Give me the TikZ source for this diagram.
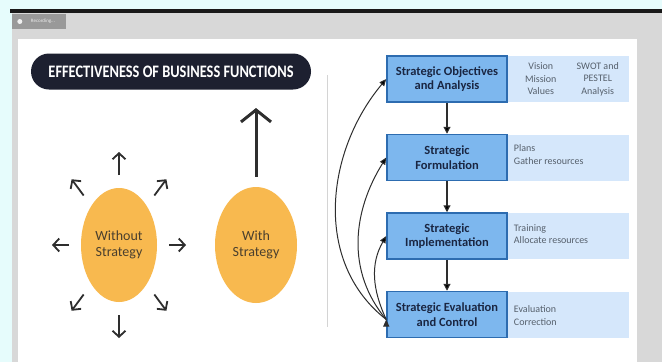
\documentclass[tikz,border=0pt]{standalone}
\usepackage{fontspec}
\setmainfont{Carlito}
\usepackage{graphicx}
\usepackage{xcolor}
\usepackage{tikz}
\usetikzlibrary{arrows.meta,positioning,shapes.geometric,calc}

\definecolor{screenbg}{HTML}{E6FCFC}
\definecolor{framegray}{HTML}{D8D8D8}
\definecolor{recgray}{HTML}{999999}
\definecolor{titlenavy}{HTML}{1D2030}
\definecolor{blobyellow}{HTML}{F8B94F}
\definecolor{blobtext}{HTML}{4A3F2E}
\definecolor{arrowgray}{HTML}{2E2E2E}
\definecolor{boxfill}{HTML}{7DB7EE}
\definecolor{boxline}{HTML}{2D6CB0}
\definecolor{boxtext}{HTML}{1A2642}
\definecolor{panelblue}{HTML}{D5E7FB}
\definecolor{notetext}{HTML}{56606C}

\begin{document}
\begin{tikzpicture}[x=1pt,y=-1pt,node distance=31pt,
    box/.style={draw=boxline,line width=1.5pt,fill=boxfill,minimum width=120pt,minimum height=46pt,
      inner sep=1pt,align=center,text=boxtext,font=\bfseries\fontsize{12.5}{14.5}\selectfont},
    panel/.style={fill=panelblue,minimum width=121pt,minimum height=46pt,inner sep=0pt},
    note/.style={text=notetext,inner sep=0pt,font=\fontsize{10}{12.5}\selectfont},
    blob/.style={ellipse,fill=blobyellow,inner sep=0pt,align=center,text=blobtext,
      font=\fontsize{14}{16.5}\selectfont},
    spoke/.style={draw=arrowgray,line width=1.8pt,-{Straight Barb[length=6pt,width=13pt]}},
    rise/.style={draw=arrowgray,line width=3pt,-{Straight Barb[length=12pt,width=30pt]}},
    flow/.style={draw=arrowgray,line width=1.1pt,-{Triangle[length=7pt,width=7pt]}},
    back/.style={draw=arrowgray,line width=1pt,-{Triangle[length=7pt,width=6pt]}}]

  % screen around the slide
  \useasboundingbox (0,0) rectangle (662,362);
  \fill[screenbg] (0,0) rectangle (662,362);
  \fill[framegray] (12,13) rectangle (662,362);
  \fill[black!90] (10,8.5) rectangle (662,13);
  \node[fill=recgray,minimum width=54pt,minimum height=15pt,inner sep=0pt,
        text=white!80!recgray,font=\fontsize{5}{5}\selectfont] (rec) at (39,21.5) {\hspace{8pt}Recording...};
  \fill[white!85!recgray] ($(rec.west)+(8,0)$) circle (2.5pt);
  \fill[white] (18,39) rectangle (637,362);

  % left half
  \node[fill=titlenavy,rounded corners=18pt,minimum width=280pt,minimum height=36pt,
        text=white,font=\bfseries] (title) at (171,71.5)
        {\resizebox{245pt}{11.5pt}{EFFECTIVENESS OF BUSINESS FUNCTIONS}};

  \node[blob,minimum width=76pt,minimum height=114pt] (wo) at (119,245) {Without\\Strategy};
  \node[blob,minimum width=82pt,minimum height=116pt] (ws) at (256,245) {With\\Strategy};

  \foreach \a in {0,45,...,315}
    \draw[spoke] ($(wo.center)+(\a:50 and 70)$) -- ($(wo.center)+(\a:67 and 93)$);

  \coordinate (goal) at (256,108);
  \draw[rise] ([yshift=10pt]ws.north) -- (goal);

  \draw[black!17,line width=0.8pt] (327,75) -- (327,327);

  % right half
  \node[box] (obj) at (447,79) {Strategic Objectives\\and Analysis};
  \node[box] (form) [below=of obj] {Strategic\\Formulation};
  \node[box] (impl) [below=of form] {Strategic\\Implementation};
  \node[box] (eval) [below=of impl] {Strategic Evaluation\\and Control};

  \node[panel] (objinfo)  [right=0pt of obj]  {};
  \node[panel] (forminfo) [right=0pt of form] {};
  \node[panel] (implinfo) [right=0pt of impl] {};
  \node[panel] (evalinfo) [right=0pt of eval] {};

  \node[note,align=center] at ($(objinfo.west)+(33,0)$) {Vision\\Mission\\Values};
  \node[note,align=center] at ($(objinfo.west)+(90,0)$) {SWOT and\\PESTEL\\Analysis};
  \node[note,align=left,anchor=west] at ($(forminfo.west)+(6,-3)$) {Plans\\Gather resources};
  \node[note,align=left,anchor=west] at ($(implinfo.west)+(6,-2)$) {Training\\Allocate resources};
  \node[note,align=left,anchor=west] at ($(evalinfo.west)+(6,1)$) {Evaluation\\Correction};

  \path[flow]
    (obj)  edge (form)
    (form) edge (impl)
    (impl) edge (eval);

  \coordinate (fb) at ([yshift=-5pt]eval.west);
  \path[back]
    (fb) edge [out=142,in=230] (obj.west)
         edge [out=130,in=238] (form.west)
         edge [out=115,in=240] (impl.west);
\end{tikzpicture}
\end{document}
